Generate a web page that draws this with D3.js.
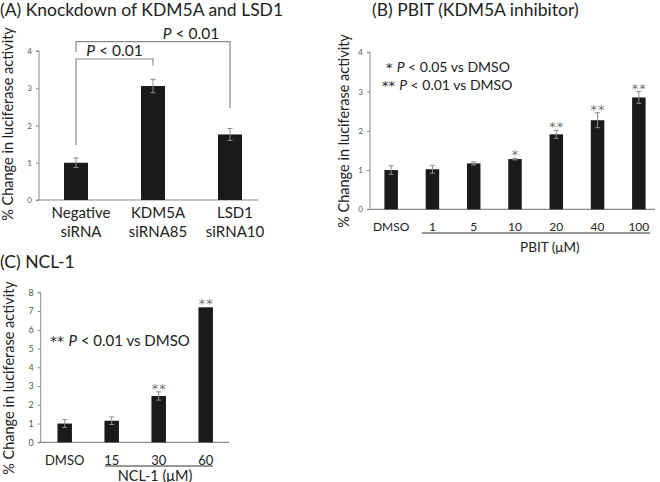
<!DOCTYPE html>
<html>
<head>
<meta charset="utf-8">
<script src="https://cdn.jsdelivr.net/npm/d3@7"></script>
<style>
  body { margin: 0; background: #fff; }
  text { font-family: Lato, "Open Sans", sans-serif; }
</style>
</head>
<body>
<svg id="fig" width="660" height="482"></svg>
<script>
// panel A: knockdown
const catsA = ["Negative|siRNA", "KDM5A|siRNA85", "LSD1|siRNA10"];
const valsA = [1.0, 3.06, 1.76];
const errA = [0.13, 0.18, 0.16];
const ticksA = [0, 1, 2, 3, 4];

// panel B: PBIT
const catsB = ["DMSO", "1", "5", "10", "20", "40", "100"];
const valsB = [1.0, 1.02, 1.17, 1.28, 1.91, 2.27, 2.85];
const errB = [0.11, 0.1, 0.04, 0.02, 0.1, 0.19, 0.15];
const starsB = ["", "", "", "*", "**", "**", "**"];
const ticksB = [0, 1, 2, 3, 4];

// panel C: NCL-1
const catsC = ["DMSO", "15", "30", "60"];
const valsC = [1.0, 1.15, 2.47, 7.2];
const errC = [0.21, 0.2, 0.22, 0];
const starsC = ["", "", "**", "**"];
const ticksC = [0, 1, 2, 3, 4, 5, 6, 7, 8];

const svg = d3.select("#fig");
const axisColor = "#8a8a8a";
const errColor = "#8c8c8c";
const starFamily = "'DejaVu Sans', sans-serif";

function drawPanel(o) {
  const g = svg.append("g");
  const x = d3.scaleBand().domain(o.cats).range([o.x0, o.x1]).paddingInner(0).paddingOuter(0);
  const y = d3.scaleLinear().domain([0, o.ymax]).range([o.y0, o.yTop]);

  // y axis
  const ya = g.append("g")
    .attr("transform", `translate(${o.x0},0)`)
    .call(d3.axisLeft(y).tickValues(o.ticks).tickFormat(d3.format("d")).tickSize(3).tickPadding(4));
  ya.select(".domain").attr("stroke", axisColor).attr("d", `M-3,${y(o.ymax)}H0V${o.y0}H-3`);
  ya.selectAll(".tick line").attr("stroke", axisColor);
  ya.selectAll(".tick text").attr("fill", "#555").style("font-size", o.tickFont + "px")
    .style("font-family", "Lato, sans-serif");

  // x axis line
  g.append("line")
    .attr("x1", o.x0).attr("x2", o.xAxisEnd)
    .attr("y1", o.y0).attr("y2", o.y0)
    .attr("stroke", axisColor).attr("stroke-width", 1.2);

  const bw = o.barW;
  const cx = (c) => x(c) + x.bandwidth() / 2 + o.barShift;

  // bars
  g.selectAll(".bar").data(o.vals).enter().append("rect")
    .attr("class", "bar")
    .attr("x", (d, i) => cx(o.cats[i]) - bw / 2)
    .attr("y", (d) => y(d))
    .attr("width", bw)
    .attr("height", (d) => o.y0 - y(d))
    .attr("fill", "#1a1a1a");

  // error bars
  o.vals.forEach((v, i) => {
    const e = o.errs[i];
    if (!e) return;
    const c = cx(o.cats[i]);
    const eg = g.append("g").attr("stroke", errColor).attr("stroke-width", 1);
    eg.append("line").attr("x1", c).attr("x2", c).attr("y1", y(v + e)).attr("y2", y(v - e));
    eg.append("line").attr("x1", c - 2.5).attr("x2", c + 2.5).attr("y1", y(v + e)).attr("y2", y(v + e));
    eg.append("line").attr("x1", c - 2.5).attr("x2", c + 2.5).attr("y1", y(v - e)).attr("y2", y(v - e));
  });

  // stars
  if (o.stars) {
    o.stars.forEach((s, i) => {
      if (!s) return;
      const top = y(o.vals[i] + (o.errs[i] || 0));
      g.append("text")
        .attr("x", cx(o.cats[i]) + 0.5)
        .attr("y", top + 1)
        .attr("text-anchor", "middle")
        .attr("fill", "#707070")
        .style("font-family", starFamily)
        .style("font-size", o.starFont + "px")
        .style("letter-spacing", "1px")
        .text(s);
    });
  }

  // category labels
  o.cats.forEach((c, i) => {
    const lines = c.split("|");
    const t = g.append("text")
      .attr("x", cx(c) + (o.labelShift || 0))
      .attr("y", o.labelY)
      .attr("text-anchor", "middle")
      .attr("fill", "#222")
      .style("font-size", o.labelFont + "px");
    lines.forEach((l, k) => {
      t.append("tspan").attr("x", cx(c) + (o.labelShift || 0)).attr("dy", k === 0 ? 0 : o.labelLineH).text(l);
    });
  });

  // group underline + unit label
  if (o.unit) {
    g.append("line")
      .attr("x1", o.underline[0]).attr("x2", o.underline[1])
      .attr("y1", o.underlineY).attr("y2", o.underlineY)
      .attr("stroke", "#333").attr("stroke-width", 1);
    g.append("text")
      .attr("x", (o.underline[0] + o.underline[1]) / 2 + o.unitShift)
      .attr("y", o.unitY)
      .attr("text-anchor", "middle")
      .attr("fill", "#222")
      .style("font-size", o.unitFont + "px")
      .text(o.unit);
  }

  // y label
  g.append("text")
    .attr("transform", `translate(${o.ylabX},${o.ylabY}) rotate(-90)`)
    .attr("text-anchor", "middle")
    .attr("fill", "#222")
    .style("font-size", o.ylabFont + "px")
    .text("% Change in luciferase activity");

  // title
  g.append("text")
    .attr("x", o.titleX).attr("y", o.titleY)
    .attr("fill", "#222")
    .style("font-size", "17.5px")
    .text(o.title);

  return { g, x, y, cx };
}

function pText(g, xPos, yPos, pre, rest, size, anchor) {
  const t = g.append("text").attr("x", xPos).attr("y", yPos)
    .attr("fill", "#222").style("font-size", size + "px")
    .attr("text-anchor", anchor || "start");
  if (pre) t.append("tspan").style("font-family", starFamily).style("font-size", (size - 1) + "px").text(pre);
  t.append("tspan").style("font-style", "italic").text("P");
  t.append("tspan").text(rest);
  return t;
}

// ---- Panel A
const A = drawPanel({
  cats: catsA, vals: valsA, errs: errA, ticks: ticksA, ymax: 4,
  x0: 39, x1: 270, xAxisEnd: 258, y0: 200, yTop: 51,
  barW: 24, barShift: -1.5, tickFont: 8,
  labelY: 218, labelLineH: 19, labelFont: 15, labelShift: 5,
  ylabX: 13, ylabY: 124, ylabFont: 14.5,
  title: "(A) Knockdown of KDM5A and LSD1", titleX: 0, titleY: 16
});
{
  const g = A.g;
  const c0 = A.cx(catsA[0]), c1 = A.cx(catsA[1]), c2 = A.cx(catsA[2]);
  const br = g.append("g").attr("stroke", "#8a8a8a").attr("stroke-width", 1.2).attr("fill", "none");
  br.append("path").attr("d", `M${c0},52V41.7H${c2}V108`);
  br.append("path").attr("d", `M${c0},145V59H${c1}V65.5`);
  pText(g, (c0 + c2) / 2 + 38, 38.5, "", " < 0.01", 15.5, "middle");
  pText(g, (c0 + c1) / 2, 56, "", " < 0.01", 15.5, "middle");
}

// ---- Panel B
const B = drawPanel({
  cats: catsB, vals: valsB, errs: errB, stars: starsB, starFont: 13, ticks: ticksB, ymax: 4,
  x0: 370, x1: 659, xAxisEnd: 655, y0: 209.3, yTop: 52.3,
  barW: 13.5, barShift: 0.5, tickFont: 8,
  labelY: 231, labelLineH: 0, labelFont: 12,
  unit: "PBIT (\u03bcM)", underline: [421.7, 650], underlineY: 233, unitY: 251.5, unitFont: 13.5, unitShift: 14,
  ylabX: 349, ylabY: 131, ylabFont: 14.5,
  title: "(B) PBIT (KDM5A inhibitor)", titleX: 372, titleY: 16
});
pText(B.g, 386, 72, "*  ", " < 0.05 vs DMSO", 14);
pText(B.g, 382, 90, "** ", " < 0.01 vs DMSO", 14);

// ---- Panel C
const C = drawPanel({
  cats: catsC, vals: valsC, errs: errC, stars: starsC, starFont: 13, ticks: ticksC, ymax: 8,
  x0: 40.7, x1: 228.7, xAxisEnd: 229, y0: 442.3, yTop: 292.3,
  barW: 14.5, barShift: 0.5, tickFont: 9,
  labelY: 464.5, labelLineH: 0, labelFont: 13,
  unit: "NCL-1 (\u03bcM)", underline: [105, 213], underlineY: 466, unitY: 480.5, unitFont: 14.5, unitShift: -4,
  ylabX: 14, ylabY: 378, ylabFont: 14.5,
  title: "(C) NCL-1", titleX: 0, titleY: 268
});
pText(C.g, 50, 346, "** ", " < 0.01 vs DMSO", 15);
</script>
</body>
</html>
